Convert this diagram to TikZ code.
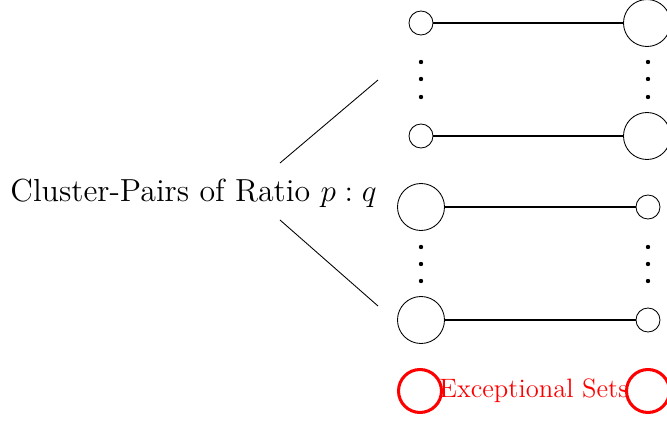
\documentclass[tikz,border=0pt]{standalone}
\begin{document}
\begin{tikzpicture}[x=0.4608pt,y=-0.4608pt,
  smallc/.style={circle,draw,line width=0.4pt,minimum size=11.06pt,inner sep=0pt},
  bigc/.style={circle,draw,line width=0.4pt,minimum size=21.66pt,inner sep=0pt},
  redc/.style={circle,draw=red,line width=1.4pt,minimum size=19.8pt,inner sep=0pt},
  link/.style={line width=0.9pt},
  vdot/.style={circle,fill=black,inner sep=0pt,minimum size=2pt},
  spoke/.style={line width=0.4pt}]
\useasboundingbox (0,0) rectangle (667,423);
\clip (0,0) rectangle (667,423);
% row 1
\node[smallc] (a1) at (421,23) {};
\node[bigc] (b1) at (647,23) {};
\draw[link] (a1) -- (b1);
% row 2
\node[smallc] (a2) at (421,136) {};
\node[bigc] (b2) at (647,136) {};
\draw[link] (a2) -- (b2);
% row 3
\node[bigc] (a3) at (421,207) {};
\node[smallc] (b3) at (648,207) {};
\draw[link] (a3) -- (b3);
% row 4
\node[bigc] (a4) at (421,320) {};
\node[smallc] (b4) at (648,320) {};
\draw[link] (a4) -- (b4);
% dots
\foreach \y [count=\i] in {62,79,97}{
  \node[vdot] (dl\i) at (421,\y) {};
  \node[vdot] (dr\i) at (648,\y) {};
}
\foreach \y [count=\i] in {247,264,281}{
  \node[vdot] (el\i) at (421,\y) {};
  \node[vdot] (er\i) at (648,\y) {};
}
% exceptional
\node[redc] (x1) at (420,391) {};
\node[redc] (x2) at (648,391) {};
\node[anchor=base,text=red,font=\fontsize{12.25pt}{15pt}\selectfont,inner sep=0pt] (xt) at (534,398) {Exceptional Sets};
% label
\node[anchor=base,font=\fontsize{14.7pt}{18pt}\selectfont,inner sep=0pt] (lab) at (193.5,202) {Cluster-Pairs of Ratio $p:q$};
\coordinate (s1) at (280,163);
\coordinate (t1) at (378,80);
\coordinate (s2) at (280,220);
\coordinate (t2) at (378,306);
\draw[spoke] (s1) -- (t1);
\draw[spoke] (s2) -- (t2);
\end{tikzpicture}
\end{document}
